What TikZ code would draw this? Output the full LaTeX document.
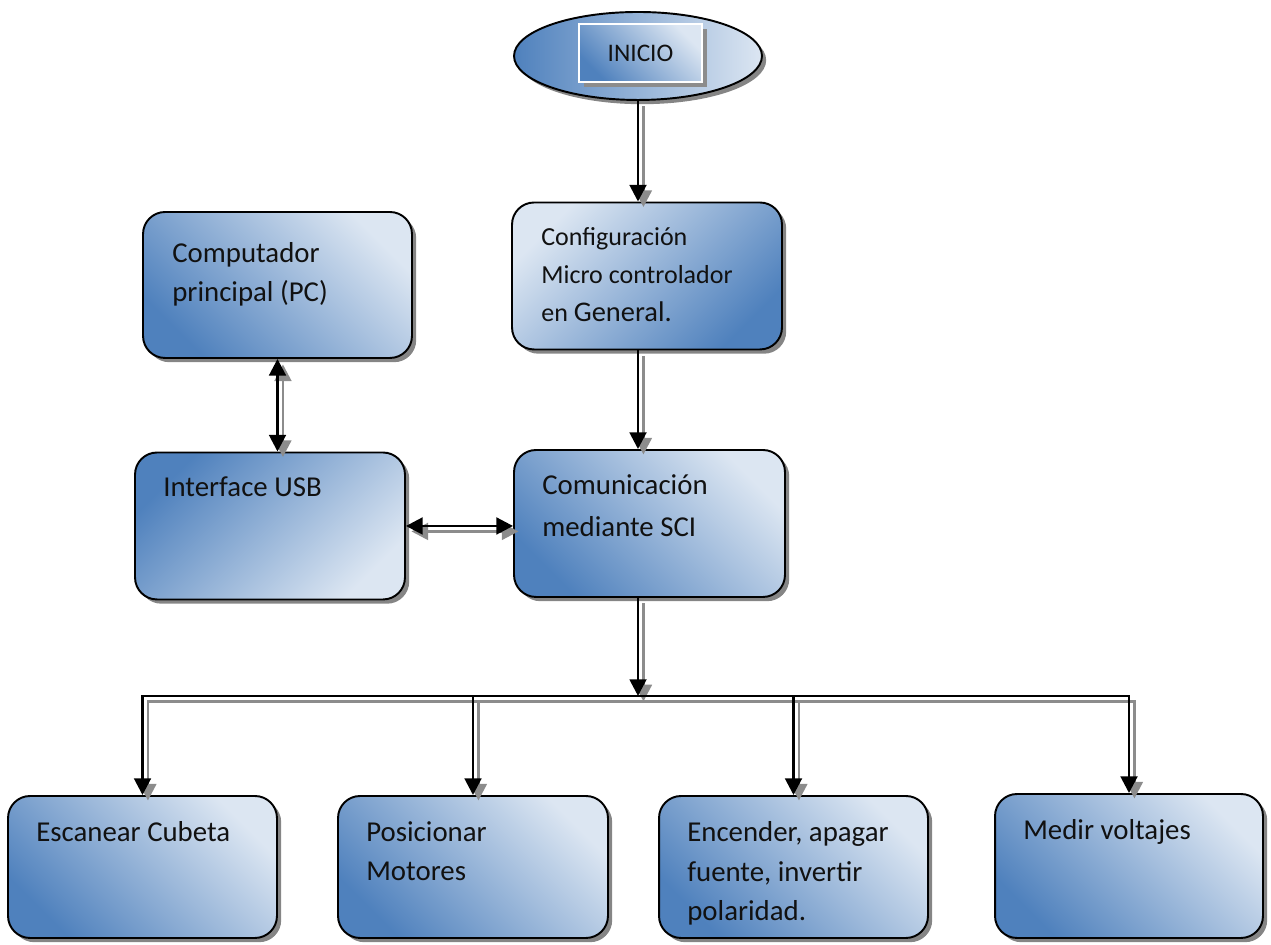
\documentclass[tikz,border=0pt]{standalone}
\usepackage{fontspec}
\setmainfont{Carlito}
\usetikzlibrary{arrows.meta,shapes.geometric,shadows,positioning}
\definecolor{boxdark}{HTML}{4F81BD}
\definecolor{boxlight}{HTML}{DCE6F2}
\definecolor{linkgray}{HTML}{8C8C8C}
\definecolor{textblack}{HTML}{111111}
\tikzset{
  stage/.style={
    rectangle,
    rounded corners=0.44cm,
    minimum width=5.4cm,
    minimum height=2.94cm,
    inner sep=0pt,
    line width=1.1pt,
    draw=black,
    drop shadow={shadow xshift=2.4pt,shadow yshift=-2.4pt,opacity=1,fill=black!48},
  },
  dark bl/.style={top color=boxlight, bottom color=boxdark, shading angle=-45},
  dark tl/.style={top color=boxdark, bottom color=boxlight, shading angle=45},
  dark br/.style={top color=boxlight, bottom color=boxdark, shading angle=45},
  start/.style={
    ellipse,
    minimum width=4.96cm,
    minimum height=1.76cm,
    inner sep=0pt,
    line width=1.1pt,
    draw=black,
    left color=boxdark,
    right color=boxlight,
    drop shadow={shadow xshift=2.4pt,shadow yshift=-2.4pt,opacity=1,fill=black!48},
  },
  start tag/.style={
    rectangle,
    minimum width=2.46cm,
    minimum height=1.16cm,
    inner sep=0pt,
    line width=0.8pt,
    draw=white,
    dark bl,
    text=textblack,
    font=\fontsize{14.4}{17}\selectfont,
    drop shadow={shadow xshift=2.6pt,shadow yshift=-2.6pt,opacity=1,fill=black!45},
  },
  % base west is the baseline of the last line
  stage text/.style={
    anchor=base west,
    align=left,
    inner sep=0pt,
    text=textblack,
    font=\fontsize{16.4}{22.5}\selectfont,
  },
  >={Triangle[length=9.5pt,width=9.5pt]},
  link/.style={
    ->,
    line width=1.6pt,
    draw=black,
  },
  link shadow/.style={
    link,
    draw=linkgray,
    transform canvas={shift={(3.1pt,-3.1pt)}},
  },
}

\begin{document}
\begin{tikzpicture}[x=0.02cm,y=0.02cm]
  \useasboundingbox (0,0) rectangle (1271,945);

  % Start of the program.
  \node[start] (ini) at (638,889) {};
  \node[start tag] (initag) at (640.5,892) {INICIO};

  % Configuration and communication stages.
  \node[stage, dark br] (cfg) at (647,669) {};
  \node[stage, dark bl, minimum width=5.38cm, minimum height=2.92cm] (pc) at (277.5,660) {};
  \node[stage, dark tl] (usb) at (270,419) {};
  \node[stage, dark bl, minimum width=5.42cm] (sci) at (649.5,421.5) {};

  % Tasks run from the SCI link.
  \node[stage, dark bl, minimum width=5.38cm, minimum height=2.84cm] (esc) at (142.5,78) {};
  \node[stage, dark bl, minimum height=2.84cm] (pos) at (473,78) {};
  \node[stage, dark bl, minimum width=5.38cm, minimum height=2.84cm] (enc) at (793.5,78) {};
  \node[stage, dark bl, minimum width=5.36cm, minimum height=2.88cm] (med) at (1129,79) {};

  % Box texts.
  \node[stage text] (pclabel) at (172,643) {Computador\\principal (PC)};
  \node[stage text] (usblabel) at (163,448) {Interface USB};
  \node[stage text, font=\fontsize{14.8}{21.8}\selectfont] (cfglabel) at (541,623)
    {Configuración\\Micro controlador\\en {\fontsize{16.2}{21.8}\selectfont General.}};
  \node[stage text, font=\fontsize{16.4}{24}\selectfont] (scilabel) at (542,408)
    {Comunicación\\mediante SCI};
  \node[stage text] (esclabel) at (36,103) {Escanear Cubeta};
  \node[stage text] (poslabel) at (366,64) {Posicionar\\Motores};
  \node[stage text] (enclabel) at (687,24) {Encender, apagar\\fuente, invertir\\polaridad.};
  \node[stage text] (medlabel) at (1023,105) {Medir voltajes};

  % Connectors, first their gray shadows, then the black lines.
  \coordinate (bus) at (638,249);
  \foreach \linkstyle in {link shadow,link}{
    \draw[\linkstyle] (ini.south) -- (ini.south |- cfg.north);
    \draw[\linkstyle] (ini.south |- cfg.south) -- (ini.south |- sci.north);
    \draw[\linkstyle,<->] (pc.south) -- (pc.south |- usb.north);
    \draw[\linkstyle,<->] (usb.east) -- (usb.east -| sci.west);
    \draw[\linkstyle] (ini.south |- sci.south) -- (bus);
    \foreach \leaf in {esc,pos,enc,med}{
      \draw[\linkstyle] (bus) -| (\leaf.north);
    }
  }
\end{tikzpicture}
\end{document}
